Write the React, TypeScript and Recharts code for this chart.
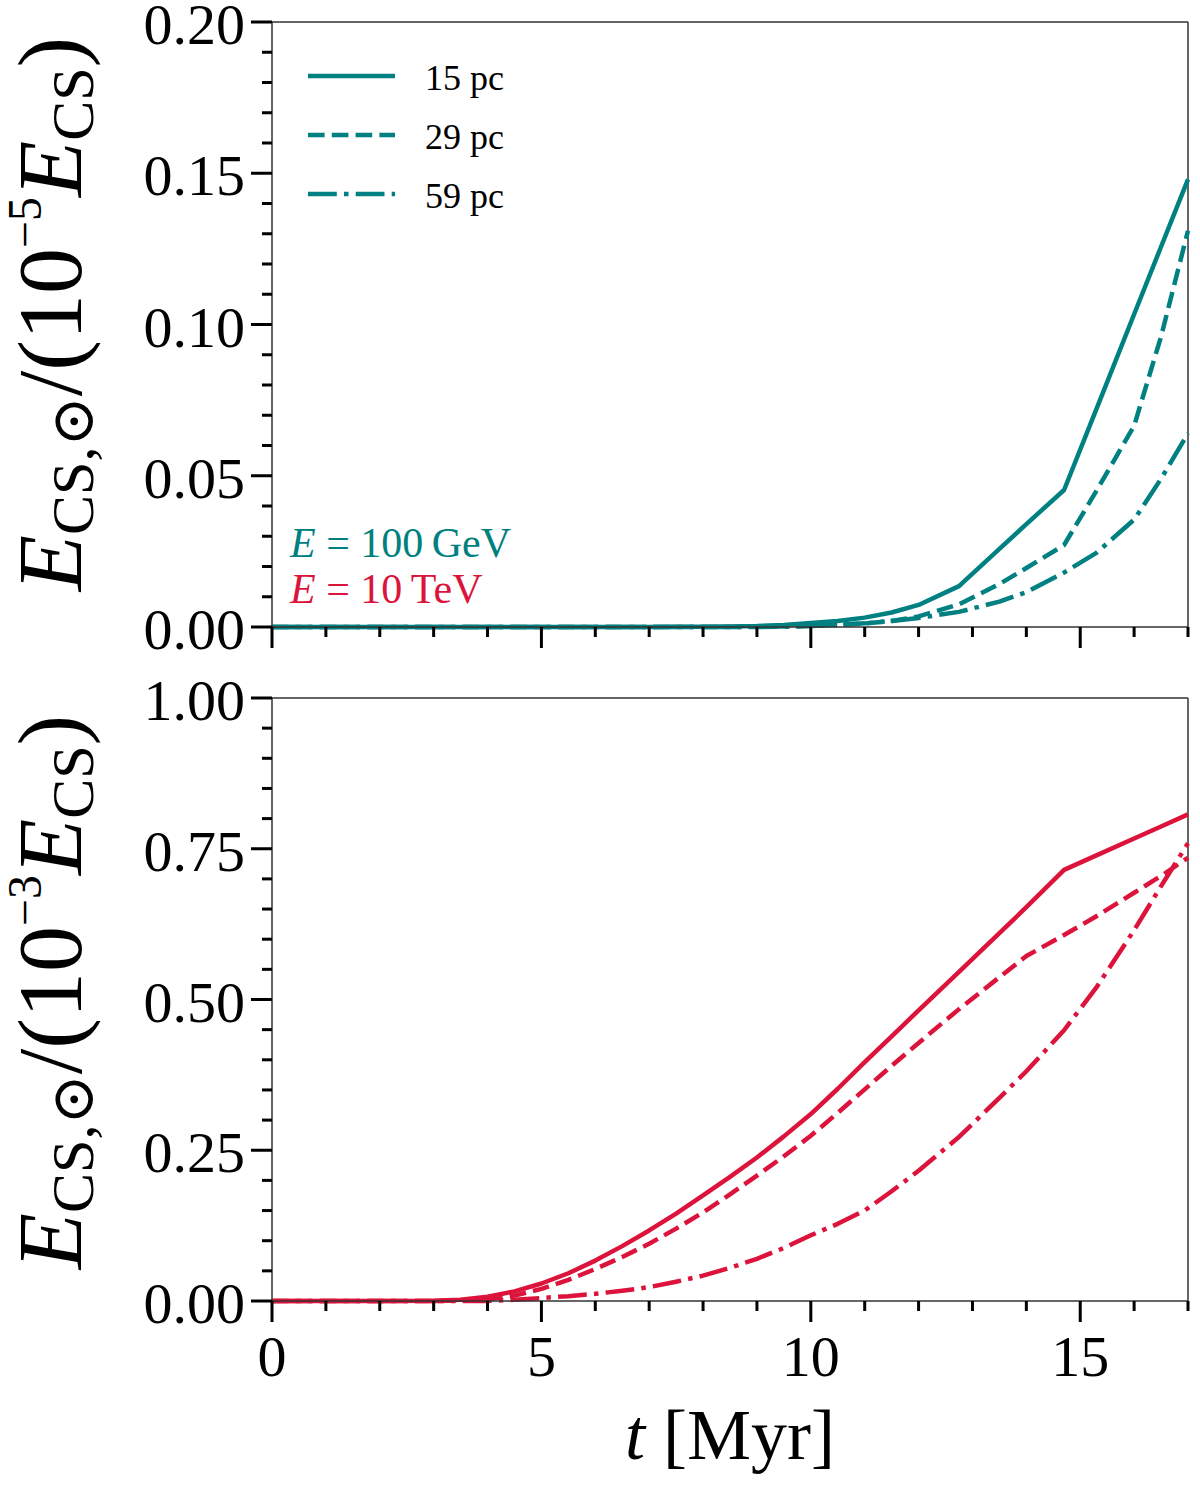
import React from 'react';
import {
  LineChart,
  Line,
  XAxis,
  YAxis,
  Legend,
  ReferenceLine,
  Customized,
} from 'recharts';

const TEAL = '#008080';
const CRIMSON = '#dc143c';
const SPINE = '#333333';

// time grid [Myr]
const times = [
  0, 1, 2, 3, 3.5, 4, 4.5, 5, 5.5, 6, 6.5, 7, 7.5, 8, 8.5, 9, 9.5, 10, 10.5, 11,
  11.5, 12, 12.75, 13.5, 14, 14.7, 15.3, 16, 16.5, 17,
];

// E = 100 GeV, units of 1e-5 E_CS
const gev15 = [
  0, 0, 0, 0, 0, 0, 0, 0, 0, 0, 0, 0, 0.0001, 0.0001, 0.0002, 0.0003, 0.0007,
  0.0013, 0.002, 0.0031, 0.0048, 0.0073, 0.0135, 0.0258, 0.034, 0.0453, 0.072,
  0.1034, 0.1257, 0.148,
];
const gev29 = [
  0, 0, 0, 0, 0, 0, 0, 0, 0, 0, 0, 0, 0, 0, 0, 0.0001, 0.0002, 0.0004, 0.0007,
  0.0012, 0.002, 0.0035, 0.0075, 0.0142, 0.0195, 0.0271, 0.045, 0.0665, 0.096,
  0.131,
];
const gev59 = [
  0, 0, 0, 0, 0, 0, 0, 0, 0, 0, 0, 0, 0, 0, 0, 0, 0.0001, 0.0003, 0.0007,
  0.0012, 0.002, 0.003, 0.005, 0.0084, 0.0115, 0.018, 0.0245, 0.0355, 0.049,
  0.064,
];

// E = 10 TeV, units of 1e-3 E_CS
const tev15 = [
  0, 0, 0, 0.0005, 0.002, 0.007, 0.016, 0.029, 0.046, 0.067, 0.091, 0.117,
  0.145, 0.175, 0.206, 0.238, 0.273, 0.31, 0.352, 0.396, 0.439, 0.482, 0.546,
  0.61, 0.653, 0.715, 0.739, 0.767, 0.787, 0.807,
];
const tev29 = [
  0, 0, 0, 0, 0.001, 0.003, 0.009, 0.02, 0.035, 0.053, 0.073, 0.095, 0.12,
  0.147, 0.177, 0.208, 0.24, 0.274, 0.312, 0.351, 0.39, 0.428, 0.484, 0.537,
  0.572, 0.607, 0.638, 0.677, 0.705, 0.735,
];
const tev59 = [
  0, 0, 0, 0, 0, 0, 0.002, 0.005, 0.008, 0.012, 0.017, 0.023, 0.032, 0.042,
  0.055, 0.07, 0.088, 0.109, 0.128, 0.15, 0.182, 0.216, 0.272, 0.337, 0.381,
  0.449, 0.52, 0.615, 0.688, 0.759,
];

const seriesNames = ['15 pc', '29 pc', '59 pc'];
const dashes: Record<string, string | undefined> = {
  '15 pc': undefined,
  '29 pc': '16.6 7.2',
  '59 pc': '28.8 7.2 4.5 7.2',
};

const xTicks = [0, 1, 2, 3, 4, 5, 6, 7, 8, 9, 10, 11, 12, 13, 14, 15, 16, 17];
const xMajor = [0, 5, 10, 15];
const topTicks = [
  0, 0.01, 0.02, 0.03, 0.04, 0.05, 0.06, 0.07, 0.08, 0.09, 0.1, 0.11, 0.12,
  0.13, 0.14, 0.15, 0.16, 0.17, 0.18, 0.19, 0.2,
];
const topMajor = [0, 0.05, 0.1, 0.15, 0.2];
const bottomTicks = [
  0, 0.05, 0.1, 0.15, 0.2, 0.25, 0.3, 0.35, 0.4, 0.45, 0.5, 0.55, 0.6, 0.65,
  0.7, 0.75, 0.8, 0.85, 0.9, 0.95, 1,
];
const bottomMajor = [0, 0.25, 0.5, 0.75, 1];

const topData = times.map((t, i) => ({ t, a: gev15[i], b: gev29[i], c: gev59[i] }));
const bottomData = times.map((t, i) => ({ t, a: tev15[i], b: tev29[i], c: tev59[i] }));

const isIn = (list: number[], v: number) => list.some((m) => Math.abs(m - v) < 1e-9);

function YTick(props: any) {
  const { x, y, payload, majors } = props;
  const major = isIn(majors, payload.value);
  return (
    <g>
      <line x1={x} x2={x - (major ? 21 : 10)} y1={y} y2={y} stroke="#000" strokeWidth={3} />
      {major && (
        <text x={x - 27} y={y} dy="0.38em" textAnchor="end" fontSize={58} fill="#000">
          {payload.value.toFixed(2)}
        </text>
      )}
    </g>
  );
}

function XTick(props: any) {
  const { x, y, payload, showLabels } = props;
  const major = isIn(xMajor, payload.value);
  return (
    <g>
      <line x1={x} x2={x} y1={y} y2={y + (major ? 21 : 10)} stroke="#000" strokeWidth={3} />
      {showLabels && major && (
        <text x={x} y={y + 75} textAnchor="middle" fontSize={58} fill="#000">
          {payload.value}
        </text>
      )}
    </g>
  );
}

function YLabel({ exp, cy }: { exp: string; cy: number }) {
  return (
    <text
      transform={`translate(81, ${cy}) rotate(-90)`}
      textAnchor="middle"
      fontSize={92}
      fill="#000"
    >
      <tspan fontStyle="italic">E</tspan>
      <tspan fontSize={60} dy={12}>CS,⊙</tspan>
      <tspan dy={-12}>/(10</tspan>
      <tspan fontSize={48} dy={-40}>{exp}</tspan>
      <tspan fontStyle="italic" dy={40}>E</tspan>
      <tspan fontSize={60} dy={12}>CS</tspan>
      <tspan dy={-12}>)</tspan>
    </text>
  );
}

function XLabel() {
  return (
    <text x={730} y={799} textAnchor="middle" fontSize={72} fill="#000">
      <tspan fontStyle="italic">t</tspan> [Myr]
    </text>
  );
}

function EnergyNote() {
  return (
    <g fontSize={42}>
      <text x={290} y={557} fill={TEAL}>
        <tspan fontStyle="italic">E</tspan> = 100{'\u2009'}GeV
      </text>
      <text x={290} y={603} fill={CRIMSON}>
        <tspan fontStyle="italic">E</tspan> = 10{'\u2009'}TeV
      </text>
    </g>
  );
}

function LegendBox(props: any) {
  const payload = props.payload || [];
  return (
    <svg width={260} height={180}>
      {payload.map((entry: any, i: number) => (
        <g key={entry.value}>
          <line
            x1={8}
            x2={95}
            y1={30 + i * 59}
            y2={30 + i * 59}
            stroke={entry.color}
            strokeWidth={4.5}
            strokeDasharray={dashes[entry.value]}
          />
          <text x={125} y={44 + i * 59} fontSize={36} fill="#000">
            {entry.value}
          </text>
        </g>
      ))}
    </svg>
  );
}

function Panel({
  data,
  color,
  height,
  margin,
  yDomain,
  yTicks,
  yMajor,
  exp,
  labelCy,
  showX,
  xHeight,
  legend,
}: any) {
  const keys = ['a', 'b', 'c'];
  return (
    <LineChart width={1200} height={height} data={data} margin={margin}>
      <XAxis
        type="number"
        dataKey="t"
        domain={[0, 17]}
        ticks={xTicks}
        interval={0}
        tickSize={0}
        tickMargin={0}
        tickLine={false}
        axisLine={{ stroke: SPINE, strokeWidth: 1.5 }}
        tick={<XTick showLabels={showX} />}
        height={xHeight}
        label={showX ? <XLabel /> : undefined}
      />
      <YAxis
        type="number"
        domain={yDomain}
        ticks={yTicks}
        interval={0}
        tickSize={0}
        tickMargin={0}
        tickLine={false}
        axisLine={{ stroke: SPINE, strokeWidth: 1.5 }}
        tick={<YTick majors={yMajor} />}
        width={272}
        label={<YLabel exp={exp} cy={labelCy} />}
      />
      <ReferenceLine y={yDomain[1]} stroke={SPINE} strokeWidth={1.5} />
      <ReferenceLine x={17} stroke={SPINE} strokeWidth={1.5} />
      {keys.map((k, i) => (
        <Line
          key={k}
          type="linear"
          dataKey={k}
          name={seriesNames[i]}
          stroke={color}
          strokeWidth={4.5}
          strokeDasharray={dashes[seriesNames[i]]}
          strokeLinejoin="round"
          dot={false}
          activeDot={false}
          isAnimationActive={false}
        />
      ))}
      {legend && (
        <Legend
          layout="horizontal"
          verticalAlign="middle"
          align="center"
          wrapperStyle={{ position: 'absolute', left: 300, top: 46, width: 260, height: 180 }}
          content={<LegendBox />}
        />
      )}
      {legend && <Customized component={EnergyNote} />}
    </LineChart>
  );
}

export default function App() {
  return (
    <div
      style={{
        position: 'absolute',
        left: 0,
        top: 0,
        width: 1200,
        height: 1487,
        background: '#fff',
        fontFamily: '"Liberation Serif", "DejaVu Serif", serif',
      }}
    >
      <Panel
        data={topData}
        color={TEAL}
        height={660}
        margin={{ top: 22, right: 12, bottom: 11, left: 0 }}
        yDomain={[0, 0.2]}
        yTicks={topTicks}
        yMajor={topMajor}
        exp="−5"
        labelCy={314}
        showX={false}
        xHeight={22}
        legend
      />
      <Panel
        data={bottomData}
        color={CRIMSON}
        height={827}
        margin={{ top: 38, right: 12, bottom: 0, left: 0 }}
        yDomain={[0, 1]}
        yTicks={bottomTicks}
        yMajor={bottomMajor}
        exp="−3"
        labelCy={332}
        showX
        xHeight={186}
        legend={false}
      />
    </div>
  );
}
